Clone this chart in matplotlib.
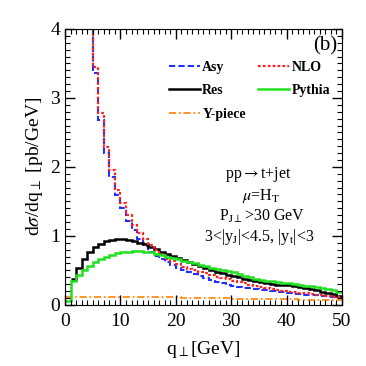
import matplotlib.pyplot as plt
import numpy as np

plt.rcParams['font.family'] = ['Liberation Serif', 'DejaVu Serif']
plt.rcParams['mathtext.fontset'] = 'stix'

# bin edges, 1 GeV bins
edges = np.arange(0, 51, 1)

# Asy (values below 5 GeV are above the frame)
asy = [30.0, 14.0, 8.5, 6.0, 4.6, 3.36, 2.68, 2.20, 1.86, 1.59,
       1.40, 1.22, 1.08, 0.96, 0.86, 0.77, 0.71, 0.66, 0.62, 0.58,
       0.54, 0.51, 0.48, 0.45, 0.42, 0.39, 0.36, 0.33, 0.31, 0.29,
       0.275, 0.265, 0.25, 0.24, 0.23, 0.22, 0.21, 0.20, 0.19, 0.18,
       0.17, 0.163, 0.157, 0.15, 0.144, 0.137, 0.13, 0.122, 0.115, 0.108]
nlo = [30.5, 14.5, 8.8, 6.2, 4.75, 3.45, 2.78, 2.29, 1.95, 1.67,
       1.47, 1.30, 1.16, 1.04, 0.95, 0.87, 0.79, 0.72, 0.67, 0.63,
       0.59, 0.555, 0.52, 0.50, 0.48, 0.46, 0.43, 0.41, 0.39, 0.37,
       0.345, 0.325, 0.31, 0.29, 0.275, 0.26, 0.245, 0.23, 0.215, 0.20,
       0.19, 0.182, 0.175, 0.167, 0.158, 0.15, 0.14, 0.13, 0.12, 0.11]
# Res starts at 1 GeV
res_edges = np.arange(1, 51, 1)
res = [0.37, 0.53, 0.66, 0.77, 0.84, 0.88, 0.92, 0.94, 0.95,
       0.95, 0.94, 0.92, 0.90, 0.88, 0.84, 0.81, 0.77, 0.74, 0.71,
       0.68, 0.65, 0.62, 0.59, 0.56, 0.53, 0.50, 0.48, 0.46, 0.44,
       0.42, 0.40, 0.38, 0.36, 0.345, 0.33, 0.315, 0.305, 0.295, 0.29,
       0.285, 0.27, 0.255, 0.24, 0.225, 0.21, 0.19, 0.17, 0.155, 0.135]
pythia = [0.06, 0.34, 0.43, 0.51, 0.57, 0.62, 0.66, 0.70, 0.73, 0.75,
          0.76, 0.77, 0.78, 0.78, 0.77, 0.76, 0.74, 0.72, 0.70, 0.68,
          0.66, 0.64, 0.62, 0.60, 0.58, 0.56, 0.54, 0.52, 0.50, 0.49,
          0.47, 0.45, 0.42, 0.40, 0.38, 0.365, 0.35, 0.34, 0.33, 0.32,
          0.31, 0.30, 0.29, 0.28, 0.27, 0.255, 0.24, 0.225, 0.21, 0.19]
ypiece = [0.11, 0.11, 0.11, 0.11, 0.11, 0.11, 0.11, 0.11, 0.11, 0.11,
          0.11, 0.11, 0.11, 0.11, 0.11, 0.11, 0.11, 0.11, 0.11, 0.108,
          0.107, 0.106, 0.105, 0.104, 0.103, 0.102, 0.10, 0.098, 0.096, 0.094,
          0.092, 0.09, 0.088, 0.086, 0.085, 0.084, 0.083, 0.082, 0.081, 0.08,
          0.079, 0.078, 0.077, 0.076, 0.075, 0.074, 0.073, 0.072, 0.071, 0.07]

fig = plt.figure(figsize=(3.66, 3.66), dpi=100)
ax = fig.add_axes([0.178, 0.167, 0.756, 0.754])

ax.stairs(asy, edges, baseline=None, color='#2030ff', ls=(0, (3, 1.5)), lw=1.5, label='Asy')
ax.stairs(res, res_edges, baseline=None, color='black', lw=1.8, label='Res')
ax.stairs(ypiece, edges, baseline=None, color='#ff8c1a', ls=(0, (4, 1.5, 1, 1.5)), lw=1.3, label='Y-piece')
ax.stairs(nlo, edges, baseline=None, color='#ff2020', ls=(0, (1.2, 1.0)), lw=1.6, label='NLO')
ax.stairs(pythia, edges, baseline=None, color='#20e020', lw=1.8, label='Pythia')

ax.set_xlim(0, 50)
ax.set_ylim(0, 4)
ax.set_xticks([0, 10, 20, 30, 40, 50])
ax.set_yticks([0, 1, 2, 3, 4])
ax.set_xticks(np.arange(0, 51, 1), minor=True)
ax.set_yticks(np.arange(0, 4.01, 0.1), minor=True)
ax.tick_params(which='both', direction='in', top=True, right=True, labelsize=14)
ax.tick_params(which='major', length=7, width=1)
ax.tick_params(which='minor', length=3.5, width=0.8)
ax.tick_params(axis='x', pad=6)

ax.set_xlabel(r'q$_\perp$[GeV]', fontsize=14, labelpad=6)
ax.set_ylabel(r'd$\sigma$/dq$_\perp$ [pb/GeV]', fontsize=14, labelpad=4)

ax.text(0.985, 0.975, '(b)', transform=ax.transAxes, ha='right', va='top', fontsize=15)

ax.legend(ncol=2, loc='upper left', bbox_to_anchor=(0.33, 0.93), frameon=False,
          prop={'weight': 'bold', 'size': 10}, handlelength=2.2, handletextpad=0.2,
          columnspacing=0.9, labelspacing=0.75)

txt_kw = dict(transform=ax.transAxes, ha='center', va='center', fontsize=11.5)
ax.text(0.70, 0.471, r'pp$\rightarrow$t+jet', **txt_kw)
ax.text(0.71, 0.395, r'$\mu$=H$_{\rm T}$', **txt_kw)
ax.text(0.71, 0.322, r'P$_{\rm J\perp}$>30 GeV', **txt_kw)
ax.text(0.70, 0.246, r'3<|y$_{\rm J}$|<4.5, |y$_{\rm t}$|<3', **txt_kw)

fig.savefig('out.png', dpi=100)
